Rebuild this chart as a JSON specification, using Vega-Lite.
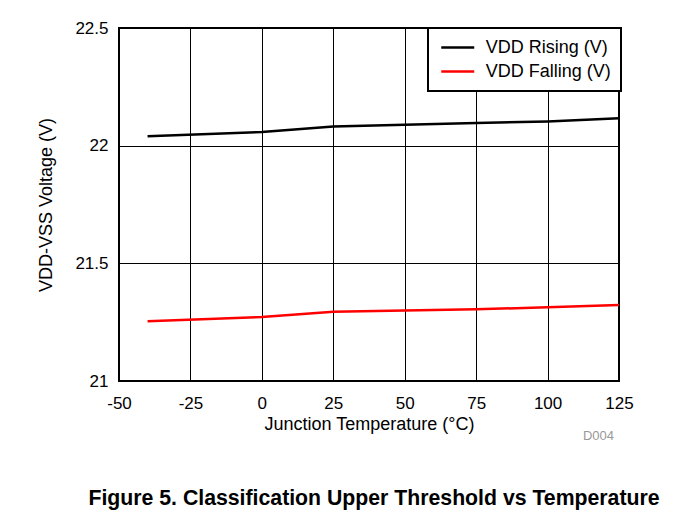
{
  "$schema": "https://vega.github.io/schema/vega-lite/v6.json",
  "width": 500,
  "height": 353,
  "autosize": {"type": "none"},
  "padding": {"left": 119, "top": 28, "right": 54, "bottom": 138},
  "background": "white",
  "title": {
    "text": "Figure 5. Classification Upper Threshold vs Temperature",
    "orient": "bottom",
    "anchor": "middle",
    "font": "Liberation Sans",
    "fontSize": 21.25,
    "fontWeight": "bold",
    "color": "black",
    "offset": 45,
    "dx": 5
  },
  "config": {
    "font": "Liberation Sans",
    "view": {"stroke": "black", "strokeWidth": 2},
    "axis": {
      "labelFont": "Liberation Sans",
      "labelFontSize": 17,
      "labelColor": "black",
      "titleFont": "Liberation Sans",
      "titleFontSize": 18,
      "titleFontWeight": "normal",
      "titleColor": "black",
      "gridColor": "black",
      "gridWidth": 1,
      "gridOpacity": 1,
      "ticks": false,
      "domain": false
    }
  },
  "layer": [
    {
      "data": {
        "values": [
          {"temp": -40, "volt": 22.04, "series": "VDD Rising (V)"},
          {"temp": 0, "volt": 22.058, "series": "VDD Rising (V)"},
          {"temp": 25, "volt": 22.081, "series": "VDD Rising (V)"},
          {"temp": 50, "volt": 22.089, "series": "VDD Rising (V)"},
          {"temp": 75, "volt": 22.096, "series": "VDD Rising (V)"},
          {"temp": 100, "volt": 22.103, "series": "VDD Rising (V)"},
          {"temp": 125, "volt": 22.116, "series": "VDD Rising (V)"},
          {"temp": -40, "volt": 21.254, "series": "VDD Falling (V)"},
          {"temp": 0, "volt": 21.272, "series": "VDD Falling (V)"},
          {"temp": 25, "volt": 21.294, "series": "VDD Falling (V)"},
          {"temp": 50, "volt": 21.3, "series": "VDD Falling (V)"},
          {"temp": 75, "volt": 21.305, "series": "VDD Falling (V)"},
          {"temp": 100, "volt": 21.313, "series": "VDD Falling (V)"},
          {"temp": 125, "volt": 21.323, "series": "VDD Falling (V)"}
        ]
      },
      "mark": {"type": "line", "strokeWidth": 2.5},
      "encoding": {
        "x": {
          "field": "temp",
          "type": "quantitative",
          "scale": {"domain": [-50, 125], "nice": false, "zero": false},
          "axis": {
            "title": "Junction Temperature (°C)",
            "values": [-50, -25, 0, 25, 50, 75, 100, 125],
            "labelExpr": "'' + datum.value",
            "labelPadding": 14,
            "titlePadding": 4,
            "labelFlush": false
          }
        },
        "y": {
          "field": "volt",
          "type": "quantitative",
          "scale": {"domain": [21, 22.5], "nice": false, "zero": false},
          "axis": {
            "title": "VDD-VSS Voltage (V)",
            "values": [21, 21.5, 22, 22.5],
            "format": "~g",
            "labelPadding": 11,
            "titlePadding": 19,
            "labelFlush": false
          }
        },
        "color": {
          "field": "series",
          "type": "nominal",
          "scale": {
            "domain": ["VDD Rising (V)", "VDD Falling (V)"],
            "range": ["black", "#ff0000"]
          },
          "legend": {
            "title": null,
            "orient": "none",
            "legendX": 309,
            "legendY": 0,
            "direction": "vertical",
            "symbolType": "M-2,0L2,0",
            "symbolSize": 272,
            "symbolStrokeWidth": 2.5,
            "symbolOffset": 10.25,
            "labelOffset": 18.5,
            "labelFont": "Liberation Sans",
            "labelFontSize": 18,
            "labelColor": "black",
            "rowPadding": 5,
            "padding": 10,
            "strokeColor": "black",
            "fillColor": "white",
            "labelLimit": 300,
            "encode": {
              "legend": {"update": {"strokeWidth": {"value": 2}}}
            }
          }
        }
      }
    },
    {
      "data": {"values": [{"temp": 125, "volt": 20.766, "label": "D004"}]},
      "mark": {
        "type": "text",
        "align": "right",
        "baseline": "middle",
        "dx": -5,
        "fontSize": 13,
        "color": "#999999",
        "clip": false
      },
      "encoding": {
        "x": {"field": "temp", "type": "quantitative"},
        "y": {"field": "volt", "type": "quantitative"},
        "text": {"field": "label"}
      }
    }
  ]
}
